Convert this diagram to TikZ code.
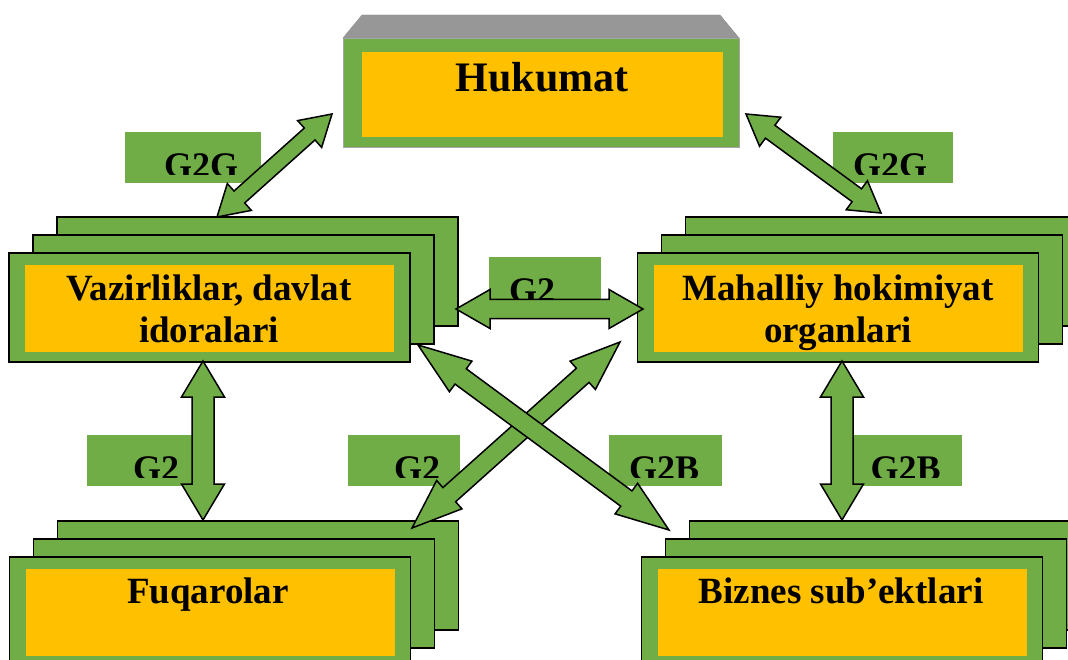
\documentclass[tikz,border=0pt]{standalone}
\usepackage{fontspec}
\setmainfont{Liberation Serif}
\usetikzlibrary{positioning,calc}

\definecolor{cardgreen}{HTML}{70AD47}
\definecolor{cardorange}{HTML}{FFC000}
\definecolor{topgray}{HTML}{979797}

\tikzset{
 card/.style={draw=black, line width=1.6pt, fill=cardgreen, minimum width=401, minimum height=109, inner sep=0},
 cardin/.style={fill=cardorange, minimum width=369, minimum height=87, inner sep=0},
 cardtext/.style={font=\fontsize{37}{42}\selectfont\bfseries, align=center, inner sep=0},
 tagbox/.style={fill=cardgreen, minimum height=51, inner sep=0},
 tagtext/.style={font=\fontsize{36}{40}\selectfont\bfseries, inner sep=0, anchor=base west},
 barrow/.style={draw=black, line width=1.5pt, fill=cardgreen, line join=miter}
}

% block arrow with two heads: tips #1 #2, head length #3, half head #4, half shaft #5
\newcommand\dblarrow[5]{%
 \draw[barrow] (#1)
  -- ($(#1)!#3!(#2)!#4!90:(#2)$) -- ($(#1)!#3!(#2)!#5!90:(#2)$)
  -- ($(#2)!#3!(#1)!#5!-90:(#1)$) -- ($(#2)!#3!(#1)!#4!-90:(#1)$)
  -- (#2)
  -- ($(#2)!#3!(#1)!#4!90:(#1)$) -- ($(#2)!#3!(#1)!#5!90:(#1)$)
  -- ($(#1)!#3!(#2)!#5!-90:(#2)$) -- ($(#1)!#3!(#2)!#4!-90:(#2)$)
  -- cycle;}

% green tag, its text cut at the bottom
\newcommand\gtag[5]{%
 \node[tagbox, minimum width=#3] (#1) at (#2) {};
 \begin{scope}
  \clip (#1.north west) rectangle ([yshift=9pt]#1.south east);
  \node[tagtext] (#1-t) at ([xshift=#4, yshift=6pt]#1.south west) {#5};
 \end{scope}}

\begin{document}
\begin{tikzpicture}[x=1pt, y=-1pt]
 \useasboundingbox (0,0) rectangle (1068,660);

 % Hukumat
 \draw[fill=topgray, draw=black!45] (343,38) -- (362,15) -- (720,15) -- (739,38) -- cycle;
 \node[fill=cardgreen, draw=black!35, line width=0.8pt, minimum width=396, minimum height=109, inner sep=0] (huk) at (541,92.5) {};
 \node[cardin, minimum width=361, minimum height=85] (huk-in) at (542.5,94.5) {};
 \node[cardtext, anchor=base, font=\fontsize{42}{46}\selectfont\bfseries] (huk-t) at (542,92) {Hukumat};

 % stacked cards
 \foreach \n/\x/\y in {vaz/209.5/307.5, mah/838/307.5, fuq/210/611.5, biz/842/611.5}{
  \foreach \i in {2,1,0}
   \node[card] (\n\i) at (\x+24*\i,\y-18*\i) {};
  \node[cardin] (\n) at (\x,\y+1) {};
 }
 \node[cardtext, anchor=base] (vaz-t) at (209,342) {Vazirliklar, davlat\\idoralari};
 \node[cardtext, anchor=base] (mah-t) at (838,342) {Mahalliy hokimiyat\\organlari};
 \node[cardtext, anchor=base] (fuq-t) at (208,603) {Fuqarolar};
 \node[cardtext, anchor=base] (biz-t) at (841,603) {Biznes sub’ektlari};

 % tags
 \gtag{tagL}{193,157.5}{136}{39pt}{G2G}
 \gtag{tagR}{893,157.5}{120}{20pt}{G2G}
 \gtag{tagM}{545,282.5}{112}{20pt}{G2}
 \gtag{tagF}{143,460.5}{112}{46pt}{G2}
 \gtag{tagX}{404,460.5}{112}{46pt}{G2}
 \gtag{tagB}{665.5,460.5}{113}{20pt}{G2B}
 \gtag{tagS}{907.5,460.5}{108}{17pt}{G2B}

 % arrow ends
 \coordinate (hukL) at (332,114);
 \coordinate (vazN) at (217,217);
 \coordinate (hukR) at (746,114);
 \coordinate (mahN) at (881,213);
 \coordinate (vazE) at (456,309);
 \coordinate (mahW) at (643,309);
 \coordinate (vazSE) at (418,345);
 \coordinate (bizNW) at (669,530);
 \coordinate (mahSW) at (620,342);
 \coordinate (fuqNE) at (412,528);
 \coordinate (vazS) at (203,361);
 \coordinate (fuqN) at (203,520);
 \coordinate (mahS) at (842,361);
 \coordinate (bizN) at (842,520);

 \dblarrow{hukL}{vazN}{30pt}{18pt}{8pt}
 \dblarrow{hukR}{mahN}{30pt}{18pt}{8pt}
 \dblarrow{vazE}{mahW}{34pt}{19.5pt}{9.5pt}
 \dblarrow{mahSW}{fuqNE}{50pt}{19pt}{9.5pt}
 \dblarrow{vazSE}{bizNW}{53pt}{19pt}{9.5pt}
 \dblarrow{vazS}{fuqN}{36pt}{21.5pt}{11pt}
 \dblarrow{mahS}{bizN}{36pt}{21.5pt}{11pt}
\end{tikzpicture}
\end{document}
